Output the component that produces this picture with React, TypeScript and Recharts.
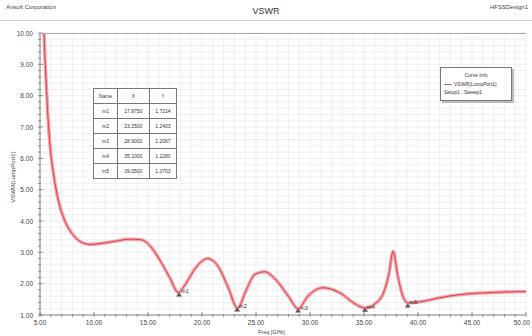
import { LineChart, Line, XAxis, YAxis, CartesianGrid, ReferenceDot } from 'recharts'

const font = '"Liberation Sans", Arial, sans-serif'

const freq = [5.2, 5.37, 5.56, 5.74, 5.93, 6.3, 6.67, 7.3, 7.96, 8.7, 9.63, 10.56, 11.9, 13.3, 14.4, 15.2, 16.1, 17.0, 17.8, 18.5, 19.4, 20.5, 21.5, 22.4, 23.3, 24.1, 24.9, 25.8, 26.9, 28.0, 28.9, 29.8, 31.2, 32.8, 34.2, 35.1, 36.0, 36.8, 37.3, 37.7, 38.1, 38.6, 39.1, 40.2, 42.0, 43.9, 45.7, 47.6, 50.0]
const vswr = [12.5, 10.0, 8.5, 7.3, 6.4, 5.4, 4.7, 4.0, 3.6, 3.35, 3.25, 3.28, 3.35, 3.42, 3.4, 3.2, 2.75, 2.2, 1.72, 2.0, 2.5, 2.8, 2.55, 1.9, 1.22, 1.8, 2.3, 2.38, 2.1, 1.6, 1.2, 1.6, 1.87, 1.7, 1.35, 1.22, 1.35, 1.7, 2.3, 3.03, 2.3, 1.6, 1.38, 1.42, 1.55, 1.65, 1.7, 1.73, 1.75]

const markerNames = ['m1', 'm2', 'm3', 'm4', 'm5']
const markerX = [17.875, 23.25, 28.9, 35.1, 39.05]
const markerY = [1.7214, 1.2403, 1.2067, 1.228, 1.3703]

const xTicks = Array.from({ length: 46 }, (_, i) => 5 + i)
const yTicks = Array.from({ length: 46 }, (_, i) => Math.round((1 + i * 0.2) * 10) / 10)

const data = freq.map((f, i) => ({ f, v: vswr[i] }))

const XTick = (p: any) => {
  const v = p.payload.value
  const major = v % 5 === 0
  return (
    <g>
      <line x1={p.x} x2={p.x} y1={p.y} y2={p.y - (major ? 5 : 3)} stroke="#777" strokeWidth={0.8} />
      {major && (
        <text x={v === 50 ? p.x + 4 : p.x} y={p.y + 8} textAnchor={v === 50 ? 'end' : 'middle'} fontSize={6.5} fill="#444" fontFamily={font}>
          {v.toFixed(2)}
        </text>
      )}
    </g>
  )
}

const YTick = (p: any) => {
  const v = p.payload.value
  const major = Math.abs(v - Math.round(v)) < 0.01
  return (
    <g>
      <line x1={p.x} x2={p.x + (major ? 5 : 3)} y1={p.y} y2={p.y} stroke="#777" strokeWidth={0.8} />
      {major && (
        <text x={p.x - 5} y={p.y + 2.5} textAnchor="end" fontSize={6.5} fill="#444" fontFamily={font}>
          {v.toFixed(2)}
        </text>
      )}
    </g>
  )
}

const Marker = (name: string) => (p: any) => (
  <g>
    <path d={`M${p.cx},${p.cy} l-3,4 l6,0 z`} fill="#555" />
    <text x={p.cx + 2} y={p.cy + 1} fontSize={5.5} fill="#333" fontFamily={font}>{name}</text>
  </g>
)

const cell = { border: '0.8px solid #777', padding: 0, textAlign: 'center' as const, height: 14 }

export default function App() {
  return (
    <div style={{ position: 'fixed', left: 0, top: 0, width: 532, height: 336, background: '#fff', fontFamily: font, overflow: 'hidden' }}>
      <div style={{ position: 'absolute', left: 6, top: 4, fontSize: 6, color: '#444' }}>Ansoft Corporation</div>
      <div style={{ position: 'absolute', left: 0, width: 532, top: 6, textAlign: 'center', fontSize: 9, color: '#333' }}>VSWR</div>
      <div style={{ position: 'absolute', left: 490, top: 4, fontSize: 6, color: '#444', whiteSpace: 'nowrap' }}>HFSSDesign1</div>
      <div style={{ position: 'absolute', left: 0, top: 20, width: 532, borderTop: '1px solid #ccc' }} />
      <LineChart width={532} height={336} data={data} margin={{ top: 33, right: 6, bottom: 9, left: 0 }}>
        <CartesianGrid stroke="#e4e4e4" strokeWidth={0.6} />
        <XAxis type="number" dataKey="f" domain={[5, 50]} ticks={xTicks} interval={0} tickSize={0} tickLine={false} height={12}
          axisLine={{ stroke: '#888' }} tick={<XTick />} allowDataOverflow />
        <YAxis type="number" domain={[1, 10]} ticks={yTicks} interval={0} tickSize={0} tickLine={false} width={40}
          axisLine={{ stroke: '#888' }} tick={<YTick />} allowDataOverflow />
        <Line dataKey="v" type="monotone" stroke="#f7a3ab" strokeWidth={3.5} dot={false} isAnimationActive={false} />
        <Line dataKey="v" type="monotone" stroke="#d9434f" strokeWidth={1} dot={false} isAnimationActive={false} />
        {markerNames.map((n, i) => (
          <ReferenceDot key={n} x={markerX[i]} y={markerY[i]} r={2} shape={Marker(n)} />
        ))}
      </LineChart>
      <div style={{ position: 'absolute', left: 40, top: 33, width: 486, borderTop: '1px solid #aaa' }} />
      <div style={{ position: 'absolute', left: 258, top: 329, fontSize: 5.5, lineHeight: '6px', color: '#444' }}>Freq [GHz]</div>
      <div style={{ position: 'absolute', left: 13, top: 177, fontSize: 6, color: '#444', transform: 'translate(-50%, -50%) rotate(-90deg)', whiteSpace: 'nowrap' }}>VSWR(LumpPort1)</div>
      <div style={{ position: 'absolute', left: 440, top: 67, width: 70, height: 32, border: '0.8px solid #777', background: '#fff', boxShadow: '2px 2px 0 #bbb', fontSize: 5, color: '#333' }}>
        <div style={{ textAlign: 'center', marginTop: 4 }}>Curve Info</div>
        <div style={{ display: 'flex', alignItems: 'center', marginTop: 3, marginLeft: 3 }}>
          <span style={{ display: 'inline-block', width: 8, borderTop: '1.5px solid #e8535e', marginRight: 2 }} />
          VSWR(LumpPort1)
        </div>
        <div style={{ marginTop: 2, marginLeft: 3 }}>Setup1 : Sweep1</div>
      </div>
      <table style={{ position: 'absolute', left: 93, top: 88, width: 84, borderCollapse: 'collapse', fontSize: 5, color: '#333', background: '#fff' }}>
        <tbody>
          <tr><td style={cell}>Name</td><td style={cell}>X</td><td style={cell}>Y</td></tr>
          {markerNames.map((n, i) => (
            <tr key={n}><td style={cell}>{n}</td><td style={cell}>{markerX[i].toFixed(4)}</td><td style={cell}>{markerY[i].toFixed(4)}</td></tr>
          ))}
        </tbody>
      </table>
    </div>
  )
}
